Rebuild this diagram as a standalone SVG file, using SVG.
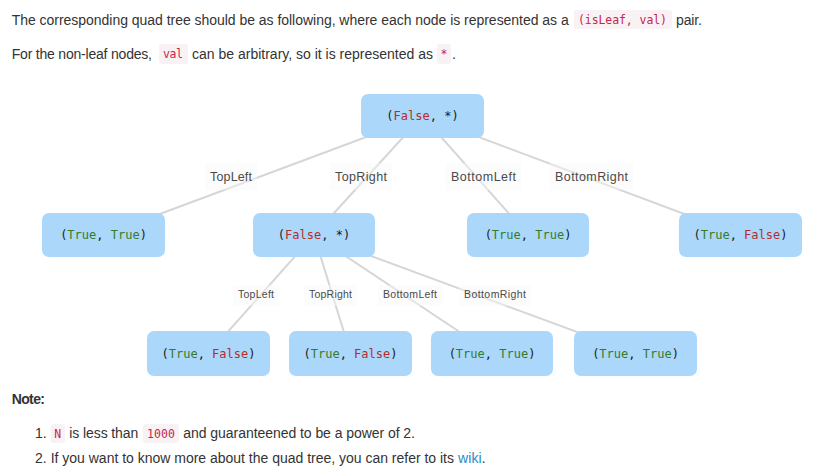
<svg xmlns="http://www.w3.org/2000/svg" width="819" height="473" viewBox="0 0 819 473">
<style>
.p{font-family:"Liberation Sans",Arial,sans-serif;font-size:14px;fill:#333}
.b{font-weight:bold}
.c{font-family:"DejaVu Sans Mono","Liberation Mono",monospace;font-size:11.5px;fill:#c7254e}
.cbg{fill:#f9f2f4}
.lnk{fill:#2a8ac9}
.node rect{fill:#abd7fb}
.node text{font-family:"DejaVu Sans Mono","Liberation Mono",monospace;font-size:12px;fill:#1a1a1a;text-anchor:middle}
.t{fill:#377a28}
.f{fill:#b52c2c}
.edges line{stroke:#d6d6d6;stroke-width:2}
.lb{fill:#f8f8f8;fill-opacity:0.45}
.l1{font-family:"Liberation Sans",Arial,sans-serif;font-size:12.5px;fill:#4a4a4a;text-anchor:middle}
.l2{font-family:"Liberation Sans",Arial,sans-serif;font-size:10.5px;fill:#4a4a4a;text-anchor:middle}
</style>
<rect width="819" height="473" fill="#fff"/>

<g id="intro">
<text class="p" x="11.7" y="25" textLength="557" lengthAdjust="spacing">The corresponding quad tree should be as following, where each node is represented as a</text>
<rect class="cbg" x="574" y="10" width="98" height="19" rx="3"/>
<text class="c" x="578" y="23.5" textLength="89" lengthAdjust="spacing">(isLeaf, val)</text>
<text class="p" x="676" y="25" textLength="26" lengthAdjust="spacing">pair.</text>
<text class="p" x="11.7" y="59" textLength="140.3" lengthAdjust="spacing">For the non-leaf nodes,</text>
<rect class="cbg" x="159" y="44" width="29" height="20" rx="3"/>
<text class="c" x="163" y="58" textLength="20" lengthAdjust="spacing">val</text>
<text class="p" x="192" y="59" textLength="241" lengthAdjust="spacing">can be arbitrary, so it is represented as</text>
<rect class="cbg" x="437" y="44" width="14" height="20" rx="3"/>
<text class="c" x="444" y="58" text-anchor="middle">*</text>
<text class="p" x="452" y="59">.</text>
</g>

<g class="edges" id="connectors">
<line x1="422.5" y1="116" x2="103.5" y2="235"/>
<line x1="422.5" y1="116" x2="314" y2="235"/>
<line x1="422.5" y1="116" x2="528" y2="235"/>
<line x1="422.5" y1="116" x2="740.5" y2="235"/>
<line x1="314" y1="235" x2="208.5" y2="353.5"/>
<line x1="314" y1="235" x2="350.5" y2="353.5"/>
<line x1="314" y1="235" x2="492" y2="353.5"/>
<line x1="314" y1="235" x2="635.5" y2="353.5"/>
<rect class="lb" x="205" y="163" width="52" height="27"/>
<text class="l1" x="231" y="180.5" textLength="42" lengthAdjust="spacing">TopLeft</text>
<rect class="lb" x="330" y="163" width="62" height="27"/>
<text class="l1" x="361" y="180.5" textLength="52" lengthAdjust="spacing">TopRight</text>
<rect class="lb" x="446" y="163" width="75" height="27"/>
<text class="l1" x="483.5" y="180.5" textLength="65" lengthAdjust="spacing">BottomLeft</text>
<rect class="lb" x="550" y="163" width="83" height="27"/>
<text class="l1" x="591.5" y="180.5" textLength="73" lengthAdjust="spacing">BottomRight</text>
<rect class="lb" x="233" y="285" width="46" height="21"/>
<text class="l2" x="256" y="298.3" textLength="36" lengthAdjust="spacing">TopLeft</text>
<rect class="lb" x="304" y="285" width="53" height="21"/>
<text class="l2" x="330.5" y="298.3" textLength="43" lengthAdjust="spacing">TopRight</text>
<rect class="lb" x="378" y="285" width="64" height="21"/>
<text class="l2" x="410" y="298.3" textLength="54" lengthAdjust="spacing">BottomLeft</text>
<rect class="lb" x="459" y="285" width="72" height="21"/>
<text class="l2" x="495" y="298.3" textLength="62" lengthAdjust="spacing">BottomRight</text>
</g>

<g class="node" id="root">
<rect x="361" y="94" width="123" height="44" rx="7"/>
<text x="422.5" y="120">(<tspan class="f">False</tspan>, *)</text>
</g>
<g class="node" id="n-tl">
<rect x="42" y="213" width="123" height="44" rx="7"/>
<text x="103.5" y="239">(<tspan class="t">True</tspan>, <tspan class="t">True</tspan>)</text>
</g>
<g class="node" id="n-tr">
<rect x="253" y="213" width="122" height="44" rx="7"/>
<text x="314" y="239">(<tspan class="f">False</tspan>, *)</text>
</g>
<g class="node" id="n-bl">
<rect x="467" y="213" width="122" height="44" rx="7"/>
<text x="528" y="239">(<tspan class="t">True</tspan>, <tspan class="t">True</tspan>)</text>
</g>
<g class="node" id="n-br">
<rect x="679" y="213" width="123" height="44" rx="7"/>
<text x="740.5" y="239">(<tspan class="t">True</tspan>, <tspan class="f">False</tspan>)</text>
</g>
<g class="node" id="n-tr-tl">
<rect x="147" y="331" width="123" height="45" rx="7"/>
<text x="208.5" y="357.5">(<tspan class="t">True</tspan>, <tspan class="f">False</tspan>)</text>
</g>
<g class="node" id="n-tr-tr">
<rect x="289" y="331" width="123" height="45" rx="7"/>
<text x="350.5" y="357.5">(<tspan class="t">True</tspan>, <tspan class="f">False</tspan>)</text>
</g>
<g class="node" id="n-tr-bl">
<rect x="431" y="331" width="122" height="45" rx="7"/>
<text x="492" y="357.5">(<tspan class="t">True</tspan>, <tspan class="t">True</tspan>)</text>
</g>
<g class="node" id="n-tr-br">
<rect x="574" y="331" width="123" height="45" rx="7"/>
<text x="635.5" y="357.5">(<tspan class="t">True</tspan>, <tspan class="t">True</tspan>)</text>
</g>

<g id="notes">
<text class="p b" x="11.7" y="404" textLength="33.3" lengthAdjust="spacing">Note:</text>
<text class="p" x="35" y="438.3">1.</text>
<rect class="cbg" x="50.7" y="424" width="14.3" height="19" rx="3"/>
<text class="c" x="57.8" y="437.5" text-anchor="middle">N</text>
<text class="p" x="69.3" y="438.3" textLength="69" lengthAdjust="spacing">is less than</text>
<rect class="cbg" x="142.7" y="424" width="36.3" height="19" rx="3"/>
<text class="c" x="147" y="437.5" textLength="28" lengthAdjust="spacing">1000</text>
<text class="p" x="183.3" y="438.3" textLength="231.7" lengthAdjust="spacing">and guaranteened to be a power of 2.</text>
<text class="p" x="35" y="463.3">2.</text>
<text class="p" x="50.7" y="463.3" textLength="403.3" lengthAdjust="spacing">If you want to know more about the quad tree, you can refer to its</text>
<text class="p lnk" x="458" y="463.3" textLength="23.7" lengthAdjust="spacing">wiki</text>
<text class="p" x="481.7" y="463.3">.</text>
</g>
</svg>
